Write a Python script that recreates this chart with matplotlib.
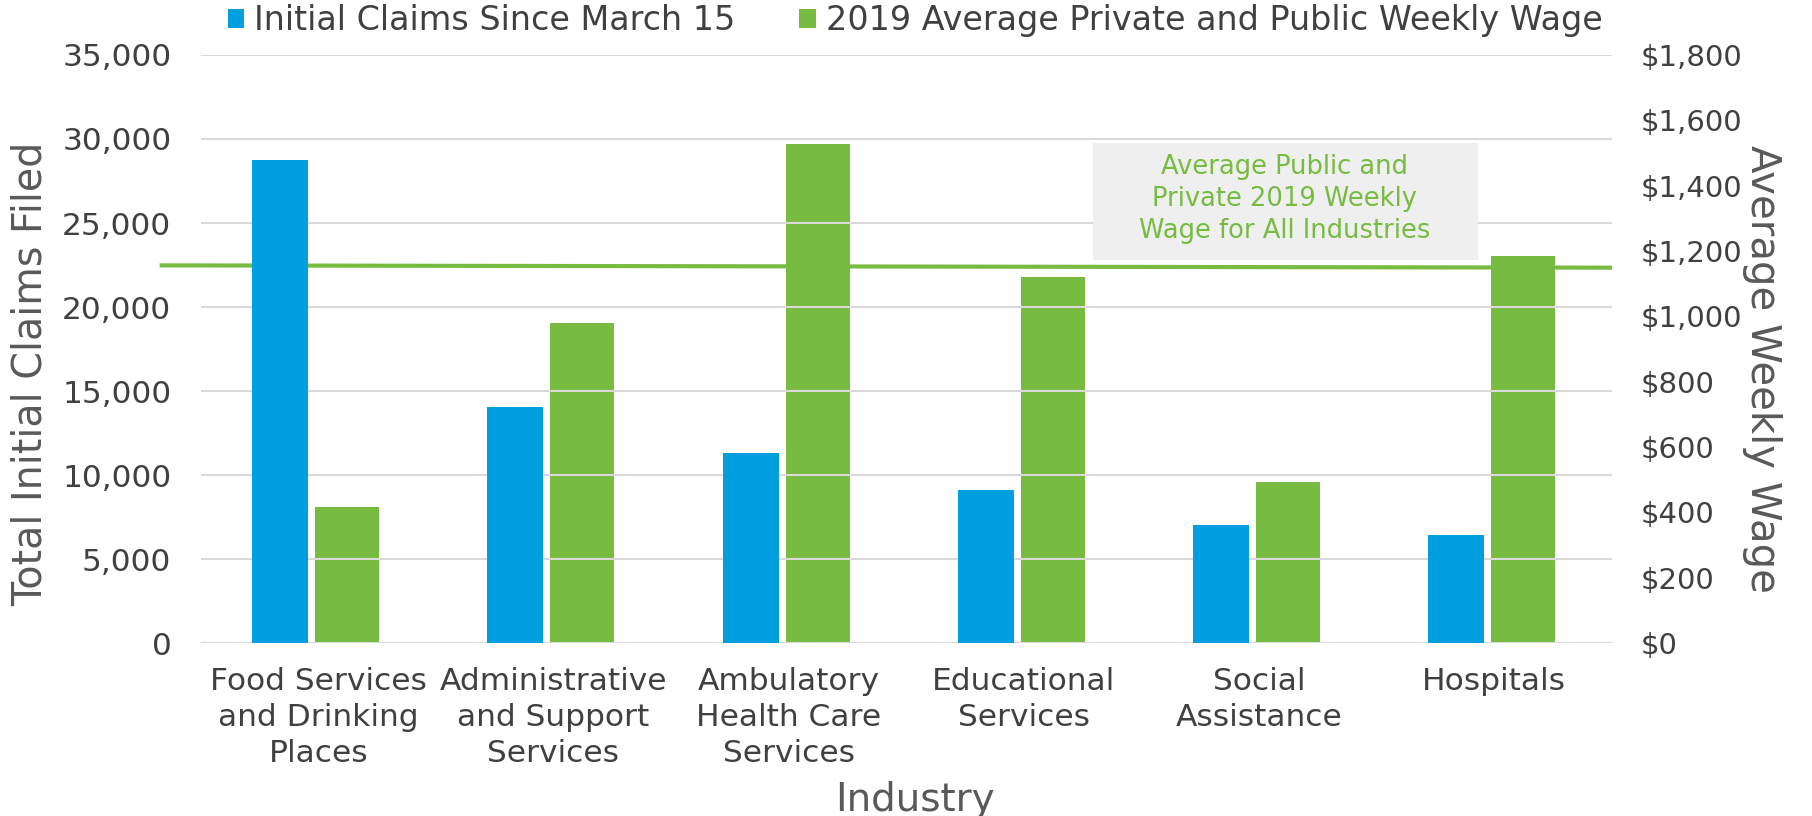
#!/usr/bin/env python3
"""Initial claims vs. 2019 average weekly wage, by industry (two y-axes)."""

import matplotlib
matplotlib.use("Agg")
import matplotlib.pyplot as plt
from matplotlib.patches import Rectangle
from matplotlib.ticker import FuncFormatter, MultipleLocator


industries = [
	"Food Services\nand Drinking\nPlaces",
	"Administrative\nand Support\nServices",
	"Ambulatory\nHealth Care\nServices",
	"Educational\nServices",
	"Social\nAssistance",
	"Hospitals",
]
claims = [28750, 14050, 11300, 9120, 7040, 6430]
wages = [417, 981, 1527, 1120, 494, 1184]
# average wage line for all industries (left end, right end as drawn)
avg_wage_ends = [1156, 1149]

BLUE = "#009fdf"
GREEN = "#77bb41"
TICK = "#404040"
LABEL = "#595959"
GRID = "#d9d9d9"

plt.rcParams["font.family"] = ["DejaVu Sans"]

fig = plt.figure(figsize=(18.12, 8.16), dpi=100)
ax = fig.add_axes([0.1107, 0.212, 0.7789, 0.7206])
ax2 = ax.twinx()

x = list(range(len(industries)))
ax.bar([i - 0.162 for i in x], claims, width=0.238, color=BLUE, zorder=3,
	label="Initial Claims Since March 15")
ax2.bar([i + 0.123 for i in x], wages, width=0.272, color=GREEN, zorder=3,
	label="2019 Average Private and Public Weekly Wage")
ax2.plot([-0.674, 5.5], avg_wage_ends, color=GREEN, lw=3.0, zorder=4,
	clip_on=False, solid_capstyle="butt")

ax.set_xlim(-0.5, 5.5)
ax.set_ylim(0, 35000)
ax2.set_ylim(0, 1800)
ax.yaxis.set_major_locator(MultipleLocator(5000))
ax2.yaxis.set_major_locator(MultipleLocator(200))
ax.yaxis.set_major_formatter(FuncFormatter(lambda v, p: f"{v:,.0f}"))
ax2.yaxis.set_major_formatter(FuncFormatter(lambda v, p: f"${v:,.0f}"))

ax.grid(axis="y", color=GRID, lw=1.5, zorder=0)
ax.set_axisbelow(True)
for a in (ax, ax2):
	for s in a.spines.values():
		s.set_visible(False)
	a.tick_params(length=0, labelcolor=TICK)
ax.tick_params(axis="y", pad=21, labelsize=22.5)
ax2.tick_params(axis="y", pad=21, labelsize=21)
ax.tick_params(axis="x", pad=17, labelsize=22.5)
ax.set_xticks(x)
ax.set_xticklabels(industries, linespacing=1.32)

# keep blue bars (left axis) drawn above the twin axes
ax.set_zorder(ax2.get_zorder() + 1)
ax.patch.set_visible(False)

ax.set_ylabel("Total Initial Claims Filed", fontsize=28.5, color=LABEL)
ax.yaxis.set_label_coords(-0.106, 0.457)
ax2.set_ylabel("Average Weekly Wage", fontsize=29, color=LABEL, rotation=270,
	va="center")
ax2.yaxis.set_label_coords(1.1065, 0.466)
ax.set_xlabel("Industry", fontsize=28, color=LABEL)
ax.xaxis.set_label_coords(0.506, -0.235)

# annotation box for the average line
ax.add_patch(Rectangle((0.632, 0.651), 0.273, 0.199, transform=ax.transAxes,
	facecolor="#efefef", edgecolor="none", zorder=2))
ax.text(0.768, 0.755, "Average Public and\nPrivate 2019 Weekly\nWage for All Industries",
	transform=ax.transAxes, ha="center", va="center", fontsize=18.5,
	color=GREEN, linespacing=1.28, zorder=5)

h1, l1 = ax.get_legend_handles_labels()
h2, l2 = ax2.get_legend_handles_labels()
fig.legend(h1 + h2, l1 + l2, loc="center", bbox_to_anchor=(0.505, 0.975),
	ncol=2, frameon=False, fontsize=24, labelcolor=TICK,
	handlelength=0.5, handleheight=0.5, handletextpad=0.3, columnspacing=1.9)

fig.savefig("out.png", dpi=100)
